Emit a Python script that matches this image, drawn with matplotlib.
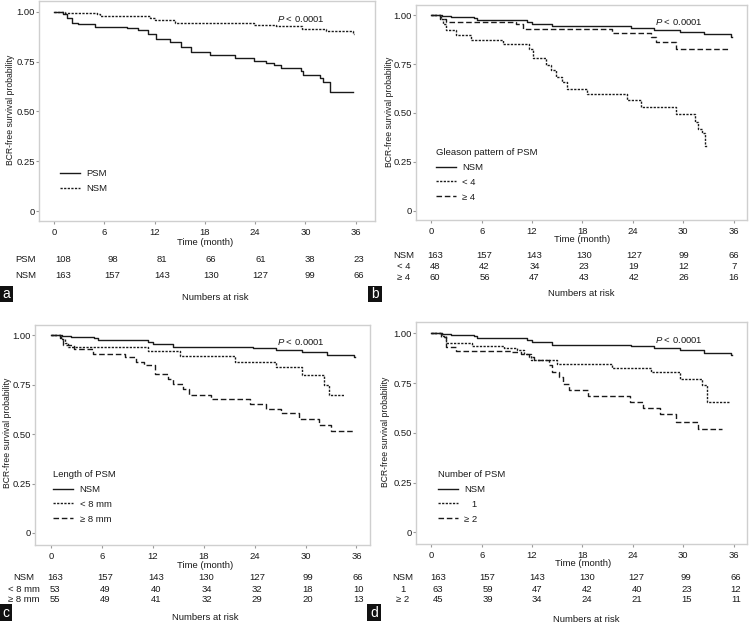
import matplotlib
matplotlib.use('Agg')
import matplotlib.pyplot as plt
from matplotlib.patches import Rectangle

plt.rcParams['font.family'] = ['Liberation Sans', 'DejaVu Sans']
plt.rcParams['mathtext.fontset'] = 'custom'
plt.rcParams['mathtext.rm'] = 'Liberation Sans'
plt.rcParams['mathtext.it'] = 'Liberation Sans:italic'

# ---------------- data ----------------
risk_times = [0, 6, 12, 18, 24, 30, 36]
x_ticks = [0, 6, 12, 18, 24, 30, 36]
y_ticks = [0, 0.25, 0.5, 0.75, 1.0]
y_tick_labels = ['0', '0.25', '0.50', '0.75', '1.00']

# negative surgical margin (shared by all panels)
nsm_t = [0, 1.3, 2.3, 5.1, 5.5, 11.4, 12.0, 14.4, 23.8, 26.5, 29.6, 32.5, 35.7, 35.8]
nsm_s = [1.0, 0.997, 0.993, 0.988, 0.978, 0.968, 0.958, 0.943, 0.935, 0.927, 0.915, 0.902, 0.89, 0.89]
nsm_risk = [163, 157, 143, 130, 127, 99, 66]

# panel a: PSM
psm_t = [0, 1.1, 1.5, 2.1, 2.9, 4.9, 8.7, 10.0, 11.2, 12.2, 13.8, 15.2, 16.4, 18.6, 21.6,
         23.8, 25.3, 26.3, 27.1, 29.5, 29.7, 31.7, 32.1, 32.9, 35.7]
psm_s = [1.0, 0.99, 0.97, 0.945, 0.937, 0.926, 0.918, 0.908, 0.89, 0.863, 0.847, 0.822, 0.797,
         0.785, 0.77, 0.755, 0.745, 0.735, 0.72, 0.705, 0.685, 0.668, 0.647, 0.60, 0.60]
psm_risk = [108, 98, 81, 66, 61, 38, 23]

# panel b: Gleason pattern of PSM
g_lt4_t = [0, 1.1, 1.4, 1.8, 2.9, 4.7, 8.5, 11.6, 12.1, 13.7, 14.3, 14.9, 15.6, 16.2, 18.5,
           23.3, 25.0, 29.2, 31.4, 31.8, 32.3, 32.6, 32.8]
g_lt4_s = [1.0, 0.98, 0.955, 0.925, 0.9, 0.874, 0.855, 0.83, 0.78, 0.746, 0.72, 0.686, 0.66,
           0.623, 0.596, 0.568, 0.532, 0.495, 0.455, 0.42, 0.40, 0.33, 0.33]
g_ge4_t = [0, 1.0, 1.7, 10.1, 10.9, 21.5, 26.2, 26.8, 29.2, 35.4]
g_ge4_s = [1.0, 0.983, 0.967, 0.955, 0.93, 0.908, 0.888, 0.862, 0.827, 0.827]
g_lt4_risk = [48, 42, 34, 23, 19, 12, 7]
g_ge4_risk = [60, 56, 47, 43, 42, 26, 16]

# panel c: length of PSM
l_lt8_t = [0, 1.2, 1.6, 2.0, 11.4, 15.2, 21.7, 26.5, 29.6, 32.2, 32.8, 34.5]
l_lt8_s = [1.0, 0.98, 0.96, 0.943, 0.92, 0.895, 0.865, 0.84, 0.798, 0.747, 0.696, 0.696]
l_ge8_t = [0, 1.1, 1.4, 2.7, 4.9, 8.7, 10.0, 11.0, 12.2, 13.8, 14.4, 15.6, 16.3, 18.8, 23.5,
           25.3, 27.1, 29.2, 31.6, 33.0, 35.7]
l_ge8_s = [1.0, 0.985, 0.95, 0.93, 0.907, 0.89, 0.865, 0.848, 0.806, 0.78, 0.755, 0.73, 0.70,
           0.676, 0.654, 0.629, 0.605, 0.578, 0.548, 0.515, 0.515]
l_lt8_risk = [53, 49, 40, 34, 32, 18, 10]
l_ge8_risk = [55, 49, 41, 32, 29, 20, 13]

# panel d: number of PSM
n1_t = [0, 1.3, 1.7, 4.9, 8.7, 10.2, 11.0, 11.9, 15.0, 21.5, 26.2, 29.6, 32.2, 32.8, 35.6]
n1_s = [1.0, 0.985, 0.953, 0.936, 0.926, 0.915, 0.897, 0.864, 0.847, 0.827, 0.806, 0.772,
        0.739, 0.655, 0.655]
n2_t = [0, 1.2, 1.7, 2.9, 9.6, 10.7, 11.6, 12.2, 14.0, 14.4, 15.2, 15.7, 16.4, 18.7, 23.7,
        25.2, 27.2, 29.2, 31.8, 34.6]
n2_s = [1.0, 0.98, 0.931, 0.91, 0.905, 0.895, 0.88, 0.864, 0.84, 0.806, 0.78, 0.745, 0.714,
        0.685, 0.655, 0.625, 0.596, 0.554, 0.518, 0.518]
n1_risk = [63, 59, 47, 42, 40, 23, 12]
n2_risk = [45, 39, 34, 24, 21, 15, 11]

# ---------------- styles ----------------
INK = '#1a1a1a'
SOLID = '-'
DOT = (0, (1.6, 1.0))
DASH = (0, (4.0, 2.0))
FS = 6.8
W, H = 756, 637

fig = plt.figure(figsize=(W / 100, H / 100), dpi=100)


def px_axes(l, t, r, b):
    return fig.add_axes([l / W, 1 - b / H, (r - l) / W, (b - t) / H])


def ftext(x, y, s, **kw):
    kw.setdefault('fontsize', FS)
    kw.setdefault('color', INK)
    return fig.text(x / W, 1 - y / H, s, **kw)


panels = [
    dict(box=(39, 1, 375, 221), xlim=(-1.8, 38.3), ylim=(-0.05, 1.055),
         curves=[('PSM', psm_t, psm_s, SOLID), ('NSM', nsm_t, nsm_s, DOT)],
         title=None, anchor=(0.0625, 0.236),
         risk_labels=['PSM', 'NSM'], risk=[psm_risk, nsm_risk], risk_y=[260, 276],
         risk_xlim=(-2.92, 37.95), risk_lab_x=26,
         time_xy=(205, 243), nar_xy=(215, 297), ylab_xy=(11, 110),
         letter='a', letter_box=(0, 286, 13, 16)),
    dict(box=(416, 5, 747, 220), xlim=(-1.82, 37.6), ylim=(-0.048, 1.053),
         curves=[('NSM', nsm_t, nsm_s, SOLID), ('< 4', g_lt4_t, g_lt4_s, DOT),
                 ('≥ 4', g_ge4_t, g_ge4_s, DASH)],
         title='Gleason pattern of PSM', anchor=(0.060, 0.335),
         risk_labels=['NSM', '< 4', '≥ 4'], risk=[nsm_risk, g_lt4_risk, g_ge4_risk],
         risk_y=[255, 266, 277], risk_xlim=(-2.25, 37.6), risk_lab_x=404,
         time_xy=(582, 240), nar_xy=(581, 294), ylab_xy=(389, 112),
         letter='b', letter_box=(368, 286, 14, 16)),
    dict(box=(35, 325, 370, 545), xlim=(-1.9, 37.6), ylim=(-0.061, 1.052),
         curves=[('NSM', nsm_t, nsm_s, SOLID), ('< 8 mm', l_lt8_t, l_lt8_s, DOT),
                 ('≥ 8 mm', l_ge8_t, l_ge8_s, DASH)],
         title='Length of PSM', anchor=(0.054, 0.341),
         risk_labels=['NSM', '< 8 mm', '≥ 8 mm'], risk=[nsm_risk, l_lt8_risk, l_ge8_risk],
         risk_y=[578, 589, 600], risk_xlim=(-2.38, 37.42), risk_lab_x=24,
         time_xy=(205, 565), nar_xy=(205, 618), ylab_xy=(8, 433),
         letter='c', letter_box=(0, 604, 12, 17)),
    dict(box=(416, 322, 747, 544), xlim=(-1.82, 37.6), ylim=(-0.059, 1.057),
         curves=[('NSM', nsm_t, nsm_s, SOLID), ('   1', n1_t, n1_s, DOT),
                 ('≥ 2', n2_t, n2_s, DASH)],
         title='Number of PSM', anchor=(0.066, 0.333),
         risk_labels=['NSM', '1', '≥ 2'], risk=[nsm_risk, n1_risk, n2_risk],
         risk_y=[578, 589, 600], risk_xlim=(-2.66, 37.33), risk_lab_x=403,
         time_xy=(583, 564), nar_xy=(586, 620), ylab_xy=(385, 432),
         letter='d', letter_box=(367, 604, 14, 17)),
]

for p in panels:
    ax = px_axes(*p['box'])
    for lab, t, s, ls in p['curves']:
        ax.plot(t, s, drawstyle='steps-post', color=INK, lw=1.0, linestyle=ls, label=lab)
    ax.set_xlim(*p['xlim'])
    ax.set_ylim(*p['ylim'])
    ax.set_xticks(x_ticks)
    ax.set_yticks(y_ticks)
    ax.set_yticklabels(y_tick_labels)
    for sp in ax.spines.values():
        sp.set_color('#cfcfcf')
        sp.set_linewidth(1.0)
    ax.tick_params(axis='both', labelsize=FS, colors='#9a9a9a', labelcolor=INK, width=0.8)
    ax.tick_params(axis='x', length=2.5, pad=2.5)
    ax.tick_params(axis='y', length=2, pad=1)

    leg = ax.legend(loc='upper left', bbox_to_anchor=p['anchor'], frameon=False,
                    fontsize=FS, title=p['title'], title_fontsize=FS,
                    handlelength=2.1, handletextpad=0.7, labelspacing=0.62,
                    borderpad=0, borderaxespad=0, alignment='left')
    if p['title']:
        leg.get_title().set_color(INK)
    for txt in leg.get_texts():
        txt.set_color(INK)

    ax.text(26.6, 0.965, r'$\it{P}$ < 0.0001', fontsize=FS, color=INK,
            ha='left', va='center')

    # risk table
    ry = p['risk_y']
    sp_ = ry[1] - ry[0]
    n = len(ry)
    rax = px_axes(p['box'][0], ry[0] - sp_ / 2, p['box'][2], ry[-1] + sp_ / 2)
    rax.set_xlim(*p['risk_xlim'])
    rax.set_ylim(n - 0.5, -0.5)
    rax.axis('off')
    for i, vals in enumerate(p['risk']):
        for tt, v in zip(risk_times, vals):
            rax.text(tt, i, str(v), ha='center', va='center', fontsize=FS, color=INK)
        ftext(p['risk_lab_x'], ry[i], p['risk_labels'][i], ha='center', va='center')

    ftext(*p['time_xy'], 'Time (month)', ha='center', va='center')
    ftext(*p['nar_xy'], 'Numbers at risk', ha='center', va='center')
    ftext(*p['ylab_xy'], 'BCR-free survival probability', ha='center', va='center',
          rotation=90, fontsize=FS - 0.6)

    lx, ly, lw_, lh = p['letter_box']
    fig.patches.append(Rectangle((lx / W, 1 - (ly + lh) / H), lw_ / W, lh / H,
                                 transform=fig.transFigure, facecolor='#111111',
                                 edgecolor='none'))
    ftext(lx + lw_ / 2, ly + lh / 2 + 0.5, p['letter'], ha='center', va='center',
          color='white', fontsize=10)

fig.savefig('out.png', dpi=100, facecolor='white')
